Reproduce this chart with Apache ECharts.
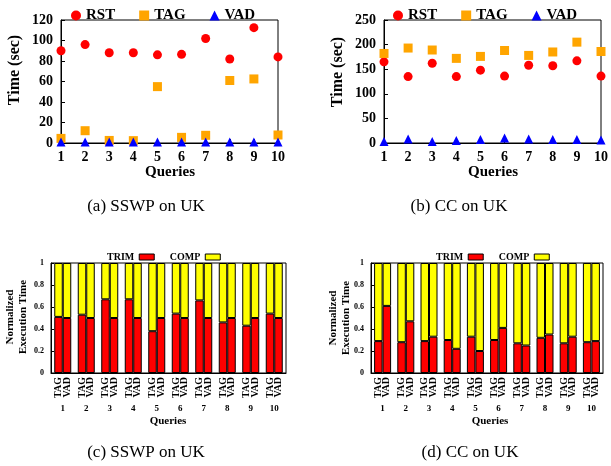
<!DOCTYPE html>
<html>
<head>
<meta charset="utf-8">
<script src="https://cdn.jsdelivr.net/npm/echarts@6/dist/echarts.min.js"></script>
<style>
html,body{margin:0;padding:0;background:#fff;}
#c{width:611px;height:466px;}
</style>
</head>
<body>
<div id="c"></div>
<script>
// ---- data ----
var queries = ['1','2','3','4','5','6','7','8','9','10'];
var queryNums = [1,2,3,4,5,6,7,8,9,10];
// (a) SSWP on UK, time in sec
var sswpRST = [90, 96, 88, 88, 86, 86.5, 102, 82, 112.5, 84];
var sswpTAG = [4.5, 12, 2.5, 2.3, 55, 5.5, 7.5, 61, 62.5, 7.8];
var sswpVAD = [1, 1, 1, 1, 1, 1, 1, 1, 1, 1];
// (b) CC on UK, time in sec
var ccRST = [165, 135, 162, 135, 148, 136, 158, 157, 167, 136];
var ccTAG = [182, 193, 189, 172, 176, 188, 178, 185, 205, 186];
var ccVAD = [3, 8, 3, 5, 7, 10, 8, 7, 7, 6];
// (c) SSWP normalized execution time
var sswpTagTrim = [0.51, 0.53, 0.67, 0.67, 0.38, 0.54, 0.66, 0.46, 0.43, 0.54];
var sswpTagComp = [0.49, 0.47, 0.33, 0.33, 0.62, 0.46, 0.34, 0.54, 0.57, 0.46];
var sswpVadTrim = [0.50, 0.50, 0.50, 0.50, 0.50, 0.50, 0.50, 0.50, 0.50, 0.50];
var sswpVadComp = [0.50, 0.50, 0.50, 0.50, 0.50, 0.50, 0.50, 0.50, 0.50, 0.50];
// (d) CC normalized execution time
var ccTagTrim = [0.29, 0.28, 0.29, 0.30, 0.33, 0.30, 0.27, 0.32, 0.27, 0.28];
var ccTagComp = [0.71, 0.72, 0.71, 0.70, 0.67, 0.70, 0.73, 0.68, 0.73, 0.72];
var ccVadTrim = [0.61, 0.47, 0.33, 0.22, 0.20, 0.41, 0.25, 0.35, 0.33, 0.29];
var ccVadComp = [0.39, 0.53, 0.67, 0.78, 0.80, 0.59, 0.75, 0.65, 0.67, 0.71];
var barGroups = ['TAG', 'VAD'];
var captions = ['(a) SSWP on UK', '(b) CC on UK', '(c) SSWP on UK', '(d) CC on UK'];

// ---- styles ----
var FF = 'Liberation Serif';
var RED = '#ff0000', ORANGE = '#ffa500', BLUE = '#0000ff', YELLOW = '#ffff00';
function pairs(xs, ys){ return xs.map(function(x,i){ return [x, ys[i]]; }); }
var lineStyle = {color:'#000', width:1};

function scatterX(gi){
  return {gridIndex:gi, type:'value', min:1, max:10, interval:1,
    axisLine:{show:true, lineStyle:lineStyle, onZero:false},
    axisTick:{show:true, inside:true, length:4, lineStyle:lineStyle},
    axisLabel:{color:'#000', fontFamily:FF, fontWeight:'bold', fontSize:14, margin:7},
    splitLine:{show:false}};
}
function scatterY(gi, max, interval){
  return {gridIndex:gi, type:'value', min:0, max:max, interval:interval,
    axisLine:{show:true, lineStyle:lineStyle},
    axisTick:{show:true, inside:true, length:4, lineStyle:lineStyle},
    axisLabel:{color:'#000', fontFamily:FF, fontWeight:'bold', fontSize:14, margin:8},
    splitLine:{show:false}};
}
function barX(gi){
  return {gridIndex:gi, type:'category', data:queries, boundaryGap:true,
    axisLine:{show:true, lineStyle:lineStyle},
    axisTick:{show:false},
    axisLabel:{interval:0, rotate:90, color:'#000', fontFamily:FF, fontWeight:'bold', fontSize:10, lineHeight:8.5, margin:4,
      formatter:function(){ return barGroups.join('\n'); }},
    splitLine:{show:false}};
}
function numX(gi){
  return {gridIndex:gi, type:'category', data:queries, boundaryGap:true, position:'bottom',
    axisLine:{show:false}, axisTick:{show:false},
    axisLabel:{interval:0, color:'#000', fontFamily:FF, fontWeight:'bold', fontSize:9, margin:31},
    splitLine:{show:false}};
}
function barY(gi){
  return {gridIndex:gi, type:'value', min:0, max:1, interval:0.2,
    axisLine:{show:true, lineStyle:lineStyle},
    axisTick:{show:true, inside:true, length:3, lineStyle:lineStyle},
    axisLabel:{color:'#000', fontFamily:FF, fontWeight:'bold', fontSize:8, margin:7},
    splitLine:{show:false}};
}
function scat(name, gi, data, symbol, color){
  return {name:name, type:'scatter', xAxisIndex:gi, yAxisIndex:gi, data:data,
    symbol:symbol, symbolSize:9, clip:false,
    itemStyle:{color:color, opacity:1}};
}
function bar(name, xi, yi, stack, data, color){
  return {name:name, type:'bar', xAxisIndex:xi, yAxisIndex:yi, stack:stack, data:data,
    barWidth:8.5, barGap:'0%',
    itemStyle:{color:color, borderColor:'#000', borderWidth:1}};
}
function scatterLegend(left){
  return {left:left, top:3, itemWidth:10, itemHeight:10, itemGap:24,
    textStyle:{color:'#000', fontFamily:FF, fontWeight:'bold', fontSize:15},
    data:[{name:'RST', icon:'circle'},{name:'TAG', icon:'rect'},{name:'VAD', icon:'triangle'}],
    selectedMode:false};
}
function barLegend(left){
  return {left:left, top:247, align:'right', itemWidth:15, itemHeight:6, itemGap:15,
    textStyle:{color:'#000', fontFamily:FF, fontWeight:'bold', fontSize:10},
    itemStyle:{borderColor:'#000', borderWidth:1},
    data:[{name:'TRIM', icon:'rect'},{name:'COMP', icon:'rect'}],
    selectedMode:false};
}
function txt(x, y, text, size, bold, rot){
  return {type:'text', x:x, y:y, rotation:rot||0,
    style:{text:text, fill:'#000', font:(bold?'bold ':'')+size+'px "'+FF+'"',
      align:'center', verticalAlign:'middle', textAlign:'center', textVerticalAlign:'middle', lineHeight:size+2}};
}

var gridBase = {show:true, borderColor:'#000', borderWidth:1, backgroundColor:'#fff'};
var option = {
  animation:false,
  backgroundColor:'#fff',
  grid:[
    Object.assign({left:61, right:333, top:20, bottom:323}, gridBase),
    Object.assign({left:384, right:10, top:20, bottom:323}, gridBase),
    Object.assign({left:51, right:325, top:263, bottom:93}, gridBase),
    Object.assign({left:371, right:8, top:263, bottom:93}, gridBase)
  ],
  xAxis:[scatterX(0), scatterX(1), barX(2), numX(2), barX(3), numX(3)],
  yAxis:[scatterY(0,120,20), scatterY(1,250,50), barY(2), barY(3)],
  legend:[scatterLegend(66), scatterLegend(388), barLegend(102), barLegend(431)],
  series:[
    scat('RST', 0, pairs(queryNums, sswpRST), 'circle', RED),
    scat('TAG', 0, pairs(queryNums, sswpTAG), 'rect', ORANGE),
    scat('VAD', 0, pairs(queryNums, sswpVAD), 'triangle', BLUE),
    scat('RST', 1, pairs(queryNums, ccRST), 'circle', RED),
    scat('TAG', 1, pairs(queryNums, ccTAG), 'rect', ORANGE),
    scat('VAD', 1, pairs(queryNums, ccVAD), 'triangle', BLUE),
    bar('TRIM', 2, 2, 'tagC', sswpTagTrim, RED),
    bar('COMP', 2, 2, 'tagC', sswpTagComp, YELLOW),
    bar('TRIM', 2, 2, 'vadC', sswpVadTrim, RED),
    bar('COMP', 2, 2, 'vadC', sswpVadComp, YELLOW),
    bar('TRIM', 4, 3, 'tagD', ccTagTrim, RED),
    bar('COMP', 4, 3, 'tagD', ccTagComp, YELLOW),
    bar('TRIM', 4, 3, 'vadD', ccVadTrim, RED),
    bar('COMP', 4, 3, 'vadD', ccVadComp, YELLOW)
  ],
  graphic:[
    txt(15, 70, 'Time (sec)', 16, true, Math.PI/2),
    txt(338, 72, 'Time (sec)', 16, true, Math.PI/2),
    txt(170, 172, 'Queries', 15, true),
    txt(493, 172, 'Queries', 15, true),
    txt(17, 317, 'Normalized\nExecution Time', 11, true, Math.PI/2),
    txt(340, 318, 'Normalized\nExecution Time', 11, true, Math.PI/2),
    txt(168, 421, 'Queries', 11, true),
    txt(490, 421, 'Queries', 11, true),
    txt(146, 207, captions[0], 17, false),
    txt(459, 207, captions[1], 17, false),
    txt(146, 453, captions[2], 17, false),
    txt(470, 453, captions[3], 17, false)
  ]
};
var chart = echarts.init(document.getElementById('c'), null, {renderer:'canvas'});
chart.setOption(option);
</script>
</body>
</html>
